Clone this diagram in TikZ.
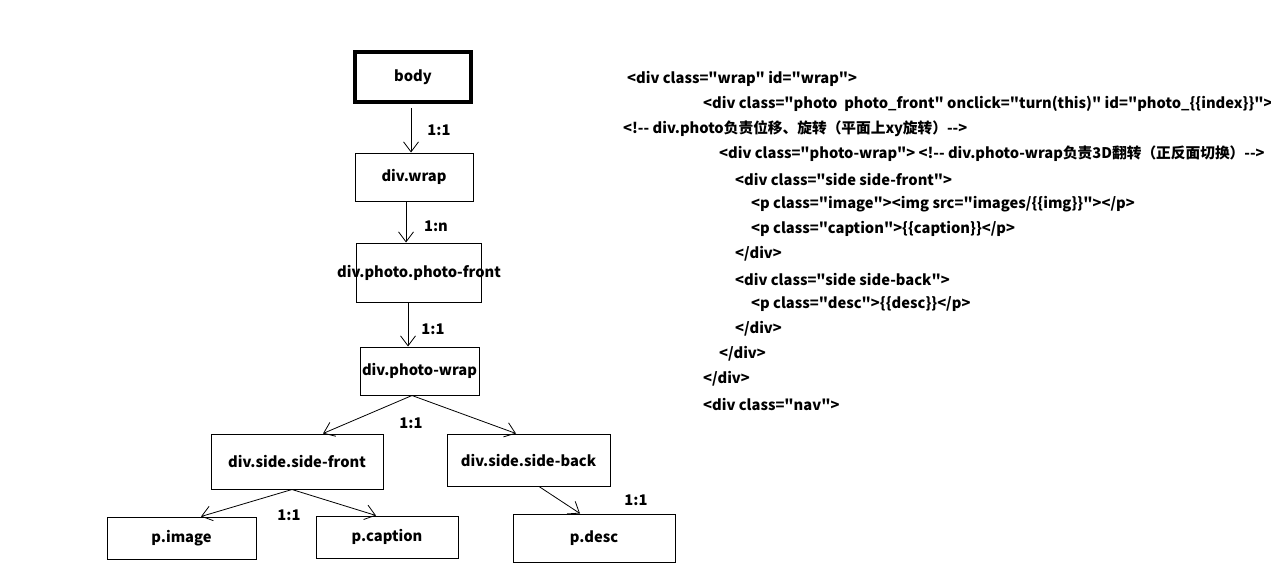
\documentclass[tikz,border=0pt]{standalone}
\usepackage{fontspec}
\newfontfamily\yh{Noto Sans CJK SC}
\usetikzlibrary{arrows.meta}
\begin{document}
\begin{tikzpicture}[x=1pt,y=-1pt,
  every node/.style={font=\yh\fontsize{14.7}{17}\selectfont\bfseries},
  box/.style={draw,line width=1pt,inner sep=0pt},
  lbl/.style={inner sep=0pt},
  code/.style={anchor=west,inner sep=0pt},
  conn/.style={line width=0.8pt,-{Straight Barb[length=10pt,width=15pt,line width=0.8pt]}}]
\useasboundingbox (0,0) rectangle (1271,568);
% tree nodes
\node[box,line width=4pt,minimum width=116pt,minimum height=50pt] (body) at (413,77) {body};
\node[box,minimum width=118pt,minimum height=48pt] (wrap) at (414,177) {div.wrap};
\node[box,minimum width=125pt,minimum height=59pt] (pf) at (419,272.5) {\makebox[0pt]{div.photo.photo-front}};
\node[box,minimum width=119pt,minimum height=48pt] (pw) at (419.5,371) {\makebox[0pt]{div.photo-wrap}};
\node[box,minimum width=172pt,minimum height=55pt] (sf) at (297,461.5) {div.side.side-front};
\node[box,minimum width=163pt,minimum height=52pt] (sb) at (528.5,460) {div.side.side-back};
\node[box,minimum width=149pt,minimum height=42pt] (pimg) at (181.5,538) {p.image};
\node[box,minimum width=142pt,minimum height=42pt] (pcap) at (387,537) {p.caption};
\node[box,minimum width=162pt,minimum height=48pt] (pdesc) at (594,538) {p.desc};
% connectors
\draw[conn] ([xshift=-2pt,yshift=-4pt]body.south) -- ([xshift=-3pt]wrap.north);
\draw[conn] ([xshift=-8pt]wrap.south) -- ([xshift=-13pt]pf.north);
\draw[conn] ([xshift=-11pt]pf.south) -- ([xshift=-11.5pt]pw.north);
\draw[conn] ([xshift=-7.5pt]pw.south) -- ([xshift=26pt]sf.north);
\draw[conn] ([xshift=-7.5pt]pw.south) -- ([xshift=-12.5pt]sb.north);
\draw[conn] ([xshift=-5pt]sf.south) -- ([xshift=19.5pt]pimg.north);
\draw[conn] ([xshift=-5pt]sf.south) -- ([xshift=-11pt]pcap.north);
\draw[conn] ([xshift=10.5pt]sb.south) -- ([xshift=-14pt]pdesc.north);
% labels
\node[lbl] (l1) at (439,130) {1:1};
\node[lbl] (l2) at (436,226) {1:n};
\node[lbl] (l3) at (433,329) {1:1};
\node[lbl] (l4) at (411,423) {1:1};
\node[lbl] (l5) at (289,515) {1:1};
\node[lbl] (l6) at (636,500) {1:1};
% code
\node[code] (c1) at (627,79) {<div class="wrap" id="wrap">};
\node[code] (c2) at (703,104) {<div class="photo\ \ photo\_front" onclick="turn(this)" id="photo\_\{\{index\}\}">};
\node[code] (c3) at (623,129) {<!-{}- div.photo负责位移、旋转（平面上xy旋转）-{}->};
\node[code] (c4) at (719,154) {<div class="photo-wrap"> <!-{}- div.photo-wrap负责3D翻转（正反面切换）-{}->};
\node[code] (c5) at (735,179) {<div class="side side-front">};
\node[code] (c6) at (751,204) {<p class="image"><img src="images/\{\{img\}\}"></p>};
\node[code] (c7) at (751,229) {<p class="caption">\{\{caption\}\}</p>};
\node[code] (c8) at (735,254) {</div>};
\node[code] (c9) at (735,279) {<div class="side side-back">};
\node[code] (c10) at (751,304) {<p class="desc">\{\{desc\}\}</p>};
\node[code] (c11) at (735,329) {</div>};
\node[code] (c12) at (719,354) {</div>};
\node[code] (c13) at (703,379) {</div>};
\node[code] (c14) at (703,404) {<div class="nav">};
\end{tikzpicture}
\end{document}
